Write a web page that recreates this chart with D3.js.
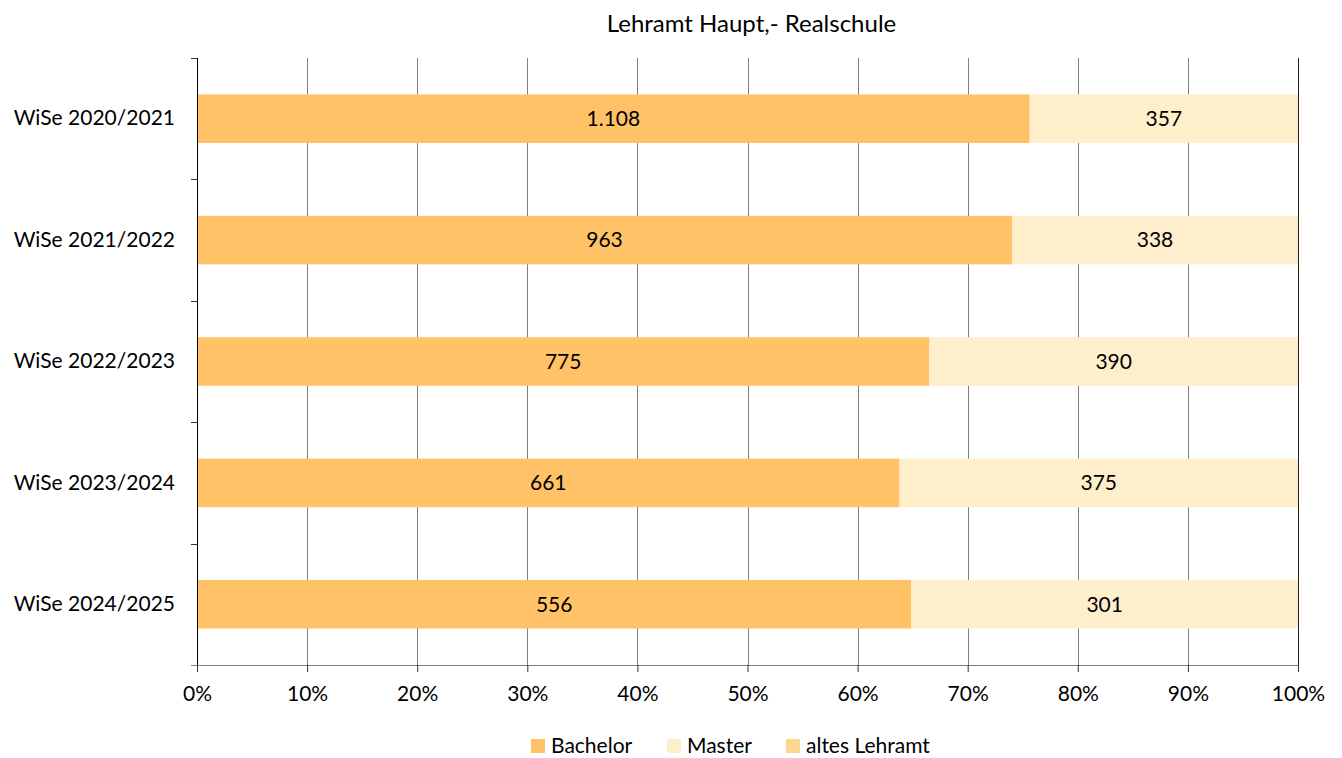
<!DOCTYPE html>
<html>
<head>
<meta charset="utf-8">
<script src="https://cdn.jsdelivr.net/npm/d3@7"></script>
<style>
  body { margin: 0; background: #fff; }
  svg text { font-family: Lato, "Open Sans", sans-serif; fill: #000; }
</style>
</head>
<body>
<div id="chart"></div>
<script>
// data
const semesters = ['WiSe 2020/2021', 'WiSe 2021/2022', 'WiSe 2022/2023', 'WiSe 2023/2024', 'WiSe 2024/2025']
const bachelor = [1108, 963, 775, 661, 556]
const master = [357, 338, 390, 375, 301]
const altesLehramt = [0, 0, 0, 0, 0]
const seriesNames = ['Bachelor', 'Master', 'altes Lehramt']
const seriesColors = ['#FFC266', '#FFEECB', '#FFD592']
const xTicks = [0, 0.1, 0.2, 0.3, 0.4, 0.5, 0.6, 0.7, 0.8, 0.9, 1]

const W = 1342, H = 758
const margin = {top: 58, right: 44, bottom: 93, left: 197}
const width = W - margin.left - margin.right
const height = H - margin.top - margin.bottom

const svg = d3.select('#chart').append('svg')
    .attr('width', W)
    .attr('height', H)

const rows = semesters.map((s, i) => ({
    semester: s,
    Bachelor: bachelor[i],
    Master: master[i],
    'altes Lehramt': altesLehramt[i],
}))

const stack = d3.stack().keys(seriesNames).offset(d3.stackOffsetExpand)
const stacked = stack(rows)

const x = d3.scaleLinear().domain([0, 1]).range([0, width])
const y = d3.scaleBand().domain(semesters).range([0, height]).paddingInner(0.6).paddingOuter(0.3)
const color = d3.scaleOrdinal().domain(seriesNames).range(seriesColors)

const g = svg.append('g').attr('transform', `translate(${margin.left},${margin.top})`)

// title
svg.append('text')
    .attr('x', margin.left + width / 2 + 4)
    .attr('y', 32)
    .attr('text-anchor', 'middle')
    .attr('font-size', 24)
    .text('Lehramt Haupt,- Realschule')

// vertical gridlines
g.append('g')
    .selectAll('line')
    .data(xTicks.slice(1))
    .join('line')
    .attr('x1', d => Math.round(x(d)) + 0.5)
    .attr('x2', d => Math.round(x(d)) + 0.5)
    .attr('y1', 0)
    .attr('y2', height)
    .attr('stroke', d => d === 1 ? '#222' : '#7f7f7f')
    .attr('stroke-width', 1)

// bars
const layer = g.append('g')
    .selectAll('g')
    .data(stacked)
    .join('g')
    .attr('fill', d => color(d.key))

layer.selectAll('rect')
    .data(d => d.map(v => ({v, key: d.key})))
    .join('rect')
    .attr('x', d => x(d.v[0]))
    .attr('y', d => y(d.v.data.semester))
    .attr('width', d => x(d.v[1]) - x(d.v[0]))
    .attr('height', y.bandwidth())

// value labels
layer.selectAll('text')
    .data(d => d.map(v => ({v, key: d.key})).filter(o => o.v.data[o.key] > 0))
    .join('text')
    .attr('x', d => (x(d.v[0]) + x(d.v[1])) / 2)
    .attr('y', d => y(d.v.data.semester) + y.bandwidth() / 2)
    .attr('dy', '0.35em')
    .attr('text-anchor', 'middle')
    .attr('font-size', 21)
    .style('fill', '#000')
    .text(d => d3.format(',')(d.v.data[d.key]).replace(/,/g, '.'))

// left axis (category)
const yAxis = g.append('g')
    .call(d3.axisLeft(y).tickSize(0).tickPadding(22))
yAxis.select('.domain').remove()
yAxis.selectAll('text').attr('font-size', 21).attr('font-family', 'Lato, sans-serif')

g.append('line')
    .attr('x1', 0.5).attr('x2', 0.5)
    .attr('y1', 0).attr('y2', height)
    .attr('stroke', '#000')

// boundary ticks on the left axis
const bounds = d3.range(semesters.length + 1).map(i => i * height / semesters.length)
g.append('g')
    .selectAll('line')
    .data(bounds)
    .join('line')
    .attr('x1', -6).attr('x2', 0)
    .attr('y1', d => Math.round(d) + 0.5)
    .attr('y2', d => Math.round(d) + 0.5)
    .attr('stroke', '#333')

// bottom axis
const xAxis = g.append('g')
    .attr('transform', `translate(0,${height})`)
    .call(d3.axisBottom(x).tickValues(xTicks).tickFormat(d3.format('.0%')).tickSize(7).tickPadding(14))
xAxis.select('.domain')
    .attr('d', `M-6,0.5H${width}`)
    .attr('stroke', '#7f7f7f')
xAxis.selectAll('.tick line').attr('stroke', '#333')
xAxis.selectAll('text').attr('font-size', 21).attr('font-family', 'Lato, sans-serif')

// legend
const legendX = [531, 667, 786]
const legend = svg.append('g')
    .selectAll('g')
    .data(seriesNames)
    .join('g')
    .attr('transform', (d, i) => `translate(${legendX[i]},739)`)
legend.append('rect')
    .attr('width', 14).attr('height', 14)
    .attr('fill', d => color(d))
legend.append('text')
    .attr('x', 20)
    .attr('y', 7)
    .attr('dy', '0.35em')
    .attr('font-size', 21)
    .text(d => d)
</script>
</body>
</html>
